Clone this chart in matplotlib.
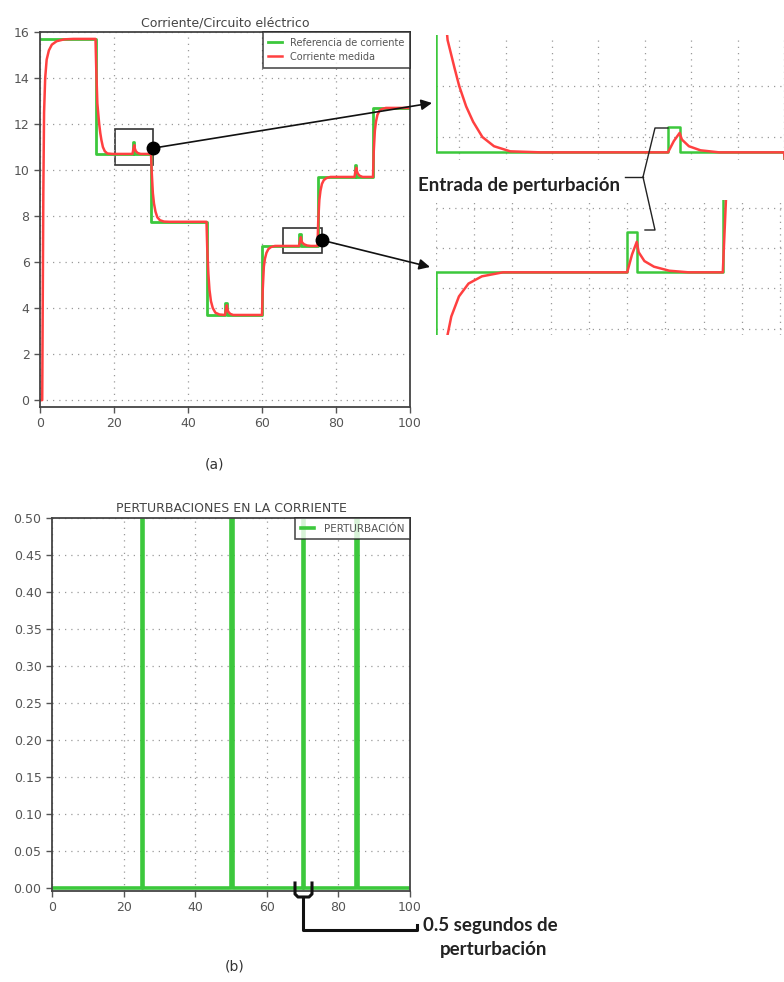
import numpy as np
import matplotlib.pyplot as plt
from matplotlib.lines import Line2D
from matplotlib.patches import Rectangle

# referencia de corriente: escalones
step_t = [0, 15, 30, 45, 60, 75, 90]
step_i = [15.7, 10.7, 7.75, 3.7, 6.7, 9.7, 12.7]
t_end = 100

# perturbaciones
pert_t = [25, 50, 70, 85]
pert_amp = 0.5
pert_dur = 0.5

# corriente medida
meas_t = [0, 0.6, 0.9, 1.1, 1.4, 1.8, 2.4, 3.2, 4.5, 6.5, 9, 15,
          15.2, 15.5, 15.8, 16.0, 16.3, 16.6, 17.0, 17.5, 18.2, 19.5, 25,
          25.25, 25.5, 25.6, 25.9, 26.4, 27.2, 30,
          30.2, 30.5, 30.8, 31.2, 31.7, 32.4, 33.5, 35, 45,
          45.2, 45.5, 45.8, 46.2, 46.7, 47.4, 48.5, 50,
          50.25, 50.5, 50.6, 50.9, 51.4, 52.2, 60,
          60.2, 60.5, 60.8, 61.2, 61.7, 62.4, 63.5, 70,
          70.25, 70.5, 70.6, 70.9, 71.4, 72.2, 73.2, 75,
          75.2, 75.5, 75.8, 76.2, 76.7, 77.4, 78.5, 85,
          85.25, 85.5, 85.6, 85.9, 86.4, 87.2, 90,
          90.2, 90.5, 90.8, 91.2, 91.7, 92.4, 93.5, 100]
meas_i = [0, 0, 9.0, 12.5, 14.0, 14.8, 15.2, 15.45, 15.6, 15.68, 15.7, 15.7,
          14.4, 12.9, 12.35, 12.0, 11.6, 11.3, 11.0, 10.82, 10.72, 10.7, 10.7,
          10.92, 11.08, 10.95, 10.82, 10.74, 10.7, 10.7,
          9.9, 9.0, 8.55, 8.2, 7.95, 7.82, 7.76, 7.75, 7.75,
          6.6, 5.5, 4.8, 4.3, 4.0, 3.8, 3.72, 3.7,
          3.95, 4.12, 3.98, 3.84, 3.75, 3.7, 3.7,
          4.8, 5.8, 6.15, 6.4, 6.56, 6.65, 6.7, 6.7,
          6.92, 7.08, 6.95, 6.84, 6.77, 6.72, 6.7, 6.7,
          7.8, 8.7, 9.1, 9.4, 9.56, 9.65, 9.7, 9.7,
          9.95, 10.1, 9.98, 9.84, 9.75, 9.7, 9.7,
          10.8, 11.7, 12.1, 12.4, 12.56, 12.65, 12.7, 12.7]

GREEN = '#3cc83c'
RED = '#ff4040'
GRID = dict(color='#9a9a9a', linestyle=(0, (1, 4)), linewidth=0.9)

# construir la senal de referencia y la de perturbacion (escalones)
edges = np.unique(np.concatenate([step_t, pert_t, np.add(pert_t, pert_dur), [t_end]]))
lvl = np.array([step_i[np.searchsorted(step_t, e, side='right') - 1] for e in edges])
pert = np.array([pert_amp if any(p <= e < p + pert_dur for p in pert_t) else 0.0 for e in edges])
ref = lvl + pert

W, H = 784, 982
fig = plt.figure(figsize=(W / 100, H / 100), dpi=100)


def fx(x):
    return x / W


def fy(y):
    return 1 - y / H


def style_axes(ax):
    ax.grid(True, **GRID)
    for s in ax.spines.values():
        s.set_color('#444444')
        s.set_linewidth(1.3)
    ax.tick_params(labelsize=9, colors='#555555', length=4, width=1)


def style_legend(leg):
    leg.get_frame().set_edgecolor('#222222')
    leg.get_frame().set_linewidth(1.2)


# ---------------- (a) ----------------
ax_a = fig.add_axes([fx(40), fy(407), fx(370), 375 / H])
ax_a.plot(edges, ref, drawstyle='steps-post', color=GREEN, lw=2, label='Referencia de corriente')
ax_a.plot(meas_t, meas_i, color=RED, lw=1.8, label='Corriente medida')
ax_a.set_xlim(0, 100)
ax_a.set_ylim(-0.3, 16)
ax_a.set_xticks(range(0, 101, 20))
ax_a.set_yticks(range(0, 17, 2))
style_axes(ax_a)
ax_a.set_title('Corriente/Circuito eléctrico', fontsize=9, color='#444444', pad=4)
style_legend(ax_a.legend(loc='upper right', fontsize=7, frameon=True, fancybox=False,
                         borderaxespad=0, handlelength=1.4, borderpad=0.6,
                         labelspacing=0.4, handletextpad=0.8, labelcolor='#555555'))

# cajas de zoom y puntos
ax_a.add_patch(Rectangle((20.3, 10.2), 10.2, 1.6, fill=False, ec='#333333', lw=1.2))
ax_a.add_patch(Rectangle((65.7, 6.4), 10.5, 1.1, fill=False, ec='#333333', lw=1.2))
ax_a.plot([30.5, 76.2], [10.95, 6.95], 'o', color='black', ms=9, clip_on=False, zorder=5)
arrow = dict(arrowstyle='-|>', color='#111111', lw=1.2, mutation_scale=16, shrinkA=0, shrinkB=0)
ax_a.annotate('', xy=(fx(432), fy(103)), xycoords='figure fraction',
              xytext=(30.5, 10.95), textcoords='data', arrowprops=arrow)
ax_a.annotate('', xy=(fx(430), fy(267)), xycoords='figure fraction',
              xytext=(76.2, 6.95), textcoords='data', arrowprops=arrow)

# ampliaciones
ins1 = fig.add_axes([fx(436), fy(160), fx(348), 125 / H])
ins2 = fig.add_axes([fx(436), fy(335), fx(348), 135 / H])
for ax, xl, yl, xt, yt in [(ins1, (15, 30), (10.55, 13.0), np.arange(16, 31, 2), [11, 12]),
                           (ins2, (60, 78.2), (5.92, 7.6), np.arange(60, 79, 2), [6.0, 6.5, 7.0, 7.5])]:
    ax.plot(edges, ref, drawstyle='steps-post', color=GREEN, lw=1.8)
    ax.plot(meas_t, meas_i, color=RED, lw=1.8)
    ax.set_xlim(*xl)
    ax.set_ylim(*yl)
    ax.set_xticks(xt)
    ax.set_yticks(yt)
    ax.grid(True, **GRID)
    ax.tick_params(length=0, labelbottom=False, labelleft=False)
    for s in ax.spines.values():
        s.set_visible(False)
    ax.patch.set_alpha(0)

BOLD = dict(fontsize=13.5, fontweight='bold', family='Lato', color='#222222', va='center')
fig.text(fx(418), fy(186), 'Entrada de perturbación', ha='left', **BOLD)
for xs, ys in [([625, 643], [177, 177]),
               ([643, 655, 668], [177, 128, 128]),
               ([643, 655, 645], [177, 230, 230])]:
    fig.add_artist(Line2D([fx(v) for v in xs], [fy(v) for v in ys], color='#222222', lw=1))

fig.text(fx(215), fy(465), '(a)', fontsize=10, color='#333333', ha='center', va='center')

# ---------------- (b) ----------------
ax_b = fig.add_axes([fx(52), fy(891), fx(358), 373 / H])
ax_b.plot(edges, pert, drawstyle='steps-post', color=GREEN, lw=2.6, label='PERTURBACIÓN')
ax_b.set_xlim(0, 100)
ax_b.set_ylim(-0.004, 0.5)
ax_b.set_xticks(range(0, 101, 20))
ax_b.set_yticks(np.arange(0, 0.51, 0.05))
ax_b.set_yticklabels([f'{v:.2f}' for v in np.arange(0, 0.51, 0.05)])
style_axes(ax_b)
ax_b.set_title('PERTURBACIONES EN LA CORRIENTE', fontsize=9, color='#444444', pad=4)
style_legend(ax_b.legend(loc='upper right', fontsize=7.5, frameon=True, fancybox=False,
                         borderaxespad=0, handlelength=1.3, borderpad=0.55,
                         handletextpad=0.9, labelcolor='#555555'))

# corchete de 0.5 s
fig.add_artist(Line2D([fx(v) for v in [295, 295, 298, 309, 312, 312]],
                      [fy(v) for v in [883, 894, 897, 897, 894, 883]], color='#111111', lw=2.2))
fig.add_artist(Line2D([fx(v) for v in [303, 303, 417, 417]],
                      [fy(v) for v in [897, 930, 930, 925]], color='#111111', lw=2.2))
fig.text(fx(423), fy(925), '0.5 segundos de', ha='left', **BOLD)
fig.text(fx(494), fy(949), 'perturbación', ha='center', **BOLD)
fig.text(fx(235), fy(967), '(b)', fontsize=10, color='#333333', ha='center', va='center')

plt.savefig('out.png', dpi=100)
